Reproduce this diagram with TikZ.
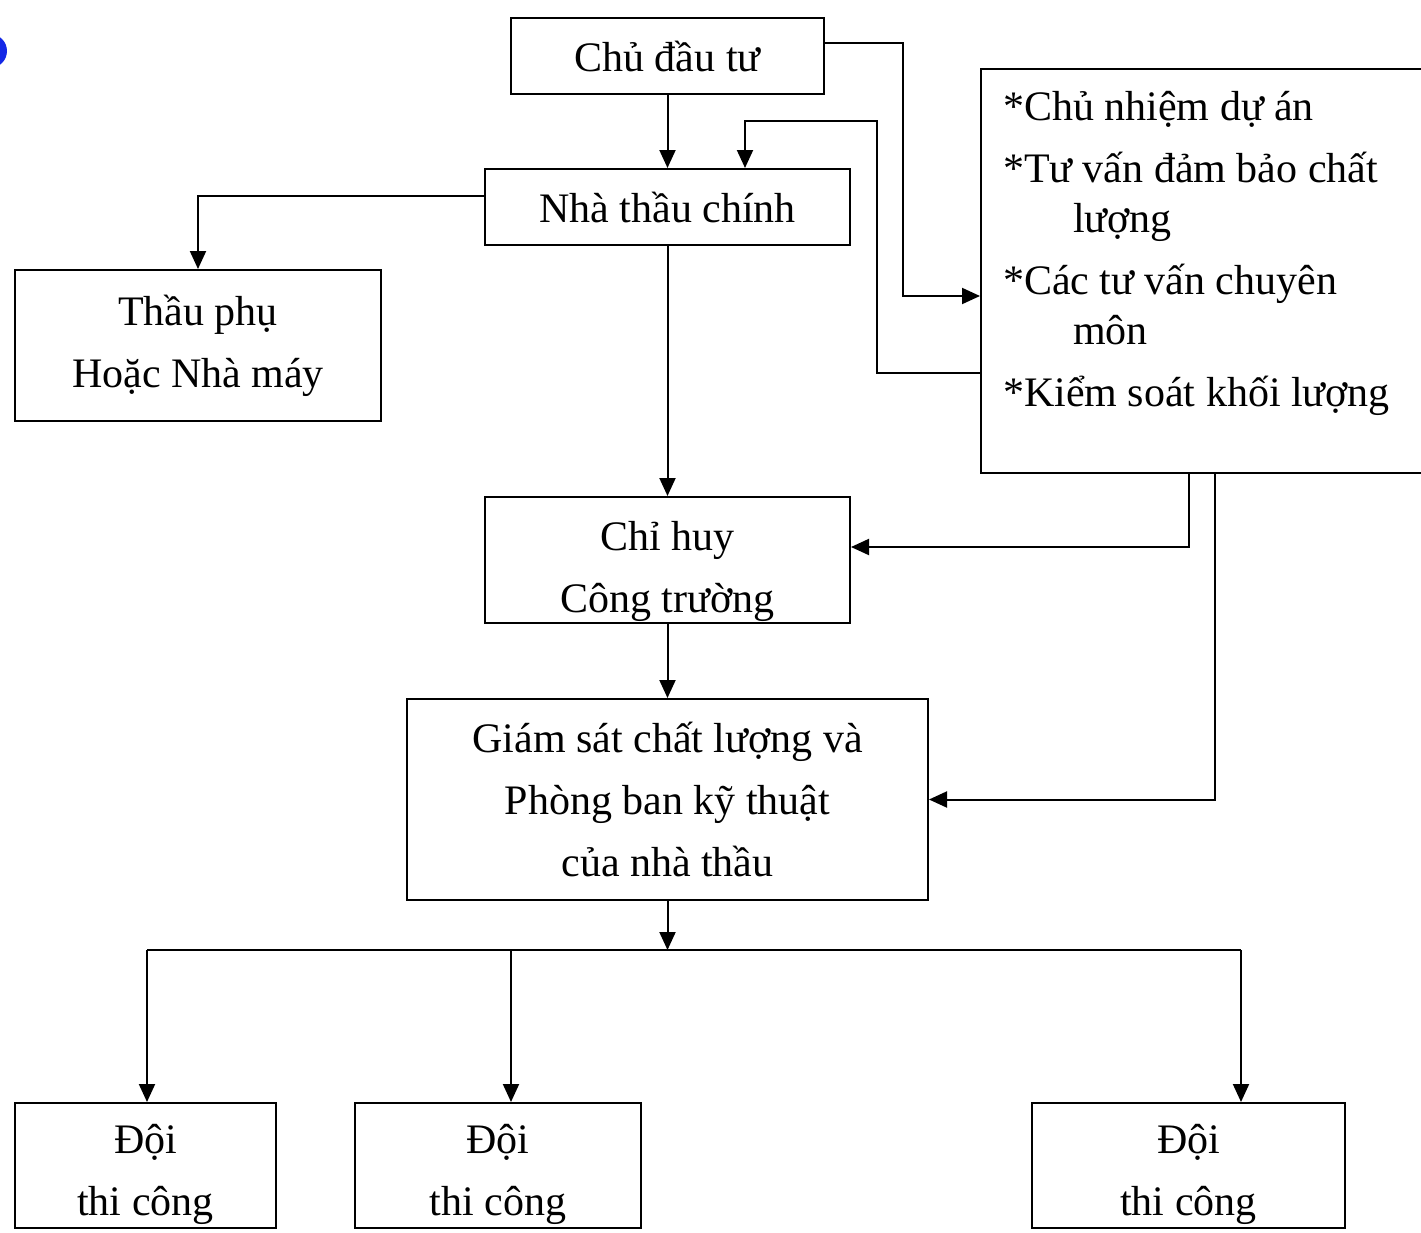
\documentclass[tikz,border=0pt]{standalone}
\usepackage{fontspec}
\setmainfont{Liberation Serif}
\usetikzlibrary{arrows.meta}
\definecolor{dotblue}{RGB}{20,40,230}
\begin{document}
\begin{tikzpicture}[x=1pt,y=-1pt,
  line width=2pt,
  box/.style={draw, line width=2pt, align=center, inner sep=0pt,
    font=\fontsize{42}{62}\selectfont},
  txt/.style={align=center, inner sep=0pt, font=\fontsize{42}{62}\selectfont},
  arr/.style={-{Triangle[length=18pt,width=16pt]}, line width=2pt},
  con/.style={line width=2pt}]
\useasboundingbox (0,0) rectangle (1421,1232);
\fill[dotblue] (-10,51) circle (17);
% boxes
\node[box, minimum width=313pt, minimum height=76pt] (cdt) at (667.5,56) {Chủ đầu tư};
\node[box, minimum width=365pt, minimum height=76pt] (ntc) at (667.5,207) {Nhà thầu chính};
\node[box, minimum width=366pt, minimum height=151pt] (tp) at (198,345.5) {Thầu phụ\\Hoặc Nhà máy};
\node[draw, line width=2pt, anchor=north west, minimum width=470pt, minimum height=404pt, inner sep=0pt] (rb) at (980,68) {};
\node[anchor=north west, inner sep=0pt, align=left, font=\fontsize{42}{50}\selectfont] (rbt) at (1002,90)
  {*Chủ nhiệm dự án\\[12pt]
   *Tư vấn đảm bảo chất\\
   \hspace*{70pt}lượng\\[12pt]
   *Các tư vấn chuyên\\
   \hspace*{70pt}môn\\[12pt]
   *Kiểm soát khối lượng};
\node[box, minimum width=365pt, minimum height=126pt] (chh) at (667.5,560) {};
\node[txt] (chht) at (667.5,571) {Chỉ huy\\Công trường};
\node[box, minimum width=521pt, minimum height=201pt] (gs) at (667.5,799.5) {Giám sát chất lượng và\\Phòng ban kỹ thuật\\của nhà thầu};
\node[box, minimum width=261pt, minimum height=125pt] (d1) at (145.5,1165.5) {};
\node[box, minimum width=286pt, minimum height=125pt] (d2) at (498,1165.5) {};
\node[box, minimum width=313pt, minimum height=125pt] (d3) at (1188.5,1165.5) {};
\node[txt] (d1t) at (145.5,1174.5) {Đội\\thi công};
\node[txt] (d2t) at (498,1174.5) {Đội\\thi công};
\node[txt] (d3t) at (1188.5,1174.5) {Đội\\thi công};
% connectors
\draw[arr] (cdt) -- (ntc);
\draw[arr] (cdt.east |- 0,43) -- (903,43) -- (903,296) -- (rb.west |- 0,296);
\draw[arr] (rb.west |- 0,373) -- (877,373) -- (877,121) -- (745,121) -- (745,0 |- ntc.north);
\draw[arr] (ntc.west |- 0,196) -| (tp.north);
\draw[arr] (ntc) -- (chh);
\draw[arr] (1189,0 |- rb.south) -- (1189,547) -- (chh.east |- 0,547);
\draw[arr] (1215,0 |- rb.south) |- (gs.east);
\draw[arr] (chh) -- (gs);
\coordinate (bus) at (667.5,950);
\coordinate (bl) at (147,950);
\coordinate (bm) at (511,950);
\coordinate (br) at (1241,950);
\draw[arr] (gs) -- (bus);
\draw[con] (bl) -- (br);
\draw[arr] (bl) -- (bl |- d1.north);
\draw[arr] (bm) -- (bm |- d2.north);
\draw[arr] (br) -- (br |- d3.north);
\end{tikzpicture}
\end{document}
